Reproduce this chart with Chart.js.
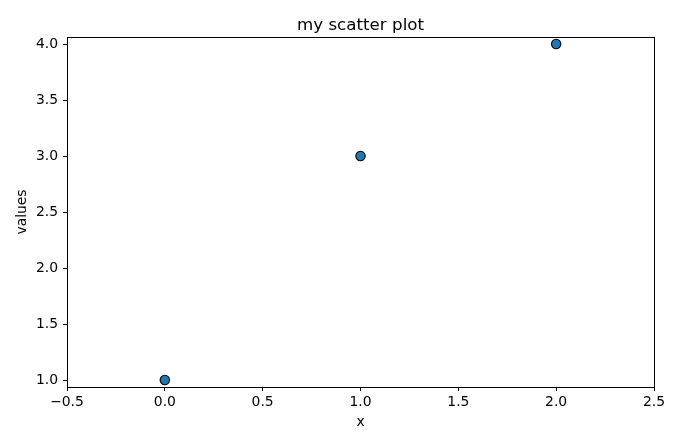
<!DOCTYPE html>
<html>
<head>
<meta charset="utf-8">
<script src="https://cdn.jsdelivr.net/npm/chart.js@4"></script>
<style>
html,body{margin:0;padding:0;background:#fff;}
#wrap{width:680px;height:445px;}
</style>
</head>
<body>
<div id="wrap"><canvas id="c" width="680" height="445"></canvas></div>
<script>
const xValues = [0, 1, 2];
const yValues = [1, 3, 4];
const xTicks = [-0.5, 0.0, 0.5, 1.0, 1.5, 2.0, 2.5];
const yTicks = [1.0, 1.5, 2.0, 2.5, 3.0, 3.5, 4.0];
const titleText = 'my scatter plot';
const xLabel = 'x';
const yLabel = 'values';

const points = xValues.map((x, i) => ({x: x, y: yValues[i]}));
const FONT = "'DejaVu Sans', sans-serif";

const frame = {
  id: 'frame',
  afterDatasetsDraw(chart) {
    const a = chart.chartArea, ctx = chart.ctx;
    ctx.save();
    ctx.strokeStyle = '#000';
    ctx.lineWidth = 1;
    ctx.strokeRect(Math.round(a.left) + 0.5, Math.round(a.top) + 0.5,
                   Math.round(a.right - a.left), Math.round(a.bottom - a.top));
    ctx.fillStyle = '#000';
    ctx.font = "16.7px " + FONT;
    ctx.textAlign = 'center';
    ctx.textBaseline = 'alphabetic';
    ctx.fillText(titleText, (a.left + a.right) / 2, 30);
    ctx.restore();
  }
};

new Chart(document.getElementById('c'), {
  type: 'scatter',
  data: {
    datasets: [{
      data: points,
      backgroundColor: '#1f77b4',
      borderColor: '#000',
      borderWidth: 1.1,
      pointRadius: 4.7,
      pointHoverRadius: 4.7
    }]
  },
  options: {
    responsive: false,
    animation: false,
    devicePixelRatio: 1,
    layout: {padding: {left: 0, right: 26, top: 37, bottom: 0}},
    plugins: {
      legend: {display: false},
      tooltip: {enabled: false},
      title: {display: false}
    },
    scales: {
      x: {
        type: 'linear',
        min: -0.5,
        max: 2.5,
        afterBuildTicks(axis) { axis.ticks = xTicks.map(v => ({value: v})); },
        afterFit(axis) { axis.height = 58; },
        grid: {display: true, drawOnChartArea: false, drawTicks: true, tickLength: 4, tickColor: '#000', color: '#000'},
        border: {display: true, color: '#000', width: 1},
        ticks: {
          color: '#000',
          font: {family: FONT, size: 13.9},
          padding: 3,
          maxRotation: 0,
          autoSkip: false,
          callback: v => (v < 0 ? '\u2212' : '') + Math.abs(v).toFixed(1)
        },
        title: {display: true, text: xLabel, color: '#000', font: {family: FONT, size: 13.9}, padding: {top: 4, bottom: 14}}
      },
      y: {
        type: 'linear',
        min: 0.9375,
        max: 4.0625,
        afterBuildTicks(axis) { axis.ticks = yTicks.map(v => ({value: v})); },
        afterFit(axis) { axis.width = 67; },
        grid: {display: true, drawOnChartArea: false, drawTicks: true, tickLength: 4, tickColor: '#000', color: '#000'},
        border: {display: true, color: '#000', width: 1},
        ticks: {
          color: '#000',
          font: {family: FONT, size: 13.9},
          padding: 5,
          autoSkip: false,
          callback: v => Number(v).toFixed(1)
        },
        title: {display: true, text: yLabel, color: '#000', font: {family: FONT, size: 13.9}, padding: {top: 14, bottom: 4}}
      }
    }
  },
  plugins: [frame]
});
</script>
</body>
</html>
